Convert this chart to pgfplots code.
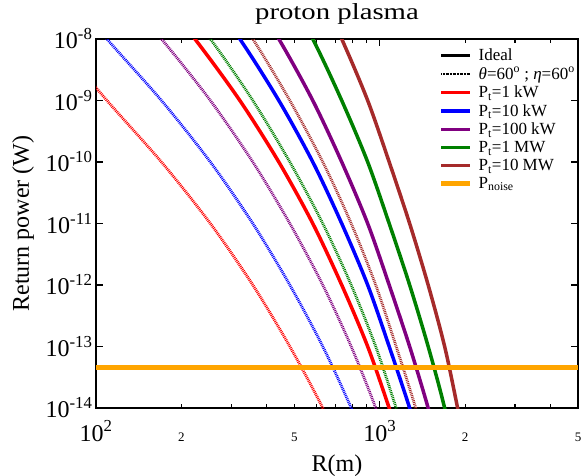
\documentclass[border=0pt]{standalone}
\usepackage{fontspec}
\setmainfont{Liberation Serif}
\usepackage{pgfplots}
\pgfplotsset{compat=1.18}
\definecolor{cpurple}{RGB}{128,0,128}
\definecolor{cgreen}{RGB}{0,128,0}
\definecolor{cbrown}{RGB}{165,42,42}
\definecolor{corange}{RGB}{255,165,0}
\tikzset{dotsty/.style={line width=2.8pt, dash pattern=on 0.9pt off 0.9pt}}
\begin{document}
\begin{tikzpicture}
\begin{loglogaxis}[
  name=ax, scale only axis, width=482pt, height=369pt,
  xmin=100, xmax=5000, ymin=1e-14, ymax=1e-8,
  axis line style={line width=1.4pt},
  every tick/.style={line width=1.2pt, black},
  major tick length=7pt, minor tick length=4pt,
  tick align=inside,
  xtick={100,1000}, xticklabels={10\textsuperscript{2},10\textsuperscript{3}},
  minor xtick={200,300,400,500,600,700,800,900,2000,3000,4000,5000},
  extra x ticks={200,500,2000,5000}, extra x tick labels={2,5,2,5},
  extra x tick style={major tick length=0pt, xticklabel style={font=\fontsize{13}{15}\selectfont}},
  ytick={1e-14,1e-13,1e-12,1e-11,1e-10,1e-9,1e-8},
  yticklabels={10\textsuperscript{-14},10\textsuperscript{-13},10\textsuperscript{-12},10\textsuperscript{-11},10\textsuperscript{-10},10\textsuperscript{-9},10\textsuperscript{-8}},
  yminorticks=false,
  ticklabel style={font=\fontsize{24}{28}\selectfont},
  xticklabel style={anchor=base, yshift=-33pt},
  title={proton plasma},
  every axis title/.style={font=\fontsize{23}{27}\selectfont\addfontfeatures{FakeStretch=1.25}, at={(axis description cs:0.5,1.0515)}, anchor=base},
  xlabel={R(m)},
  xlabel style={font=\fontsize{24}{28}\selectfont, at={(axis description cs:0.5,-0.1707)}, anchor=base},
  ylabel={Return power (W)},
  ylabel style={font=\fontsize{24}{28}\selectfont, at={(axis description cs:-0.1515,0.5)}, anchor=center},
  legend style={draw=none, fill=none, at={(axis description cs:1.004,0.985)}, anchor=north east,
    font=\fontsize{17}{20}\selectfont, row sep=1.2pt,
    /tikz/every odd column/.append style={column sep=4pt}},
  legend cell align=left,
  legend image code/.code={\draw[#1] (0pt,0pt) -- (29pt,0pt);},
]
\addlegendimage{black, line width=3.5pt}\addlegendentry{Ideal}
\addlegendimage{black, line width=2pt, dash pattern=on 0.7pt off 0.7pt}\addlegendentry{\textit{θ}=60\textsuperscript{o} ; \textit{η}=60\textsuperscript{o}}
\addlegendimage{red, line width=3.5pt}\addlegendentry{P\textsubscript{t}=1 kW}
\addlegendimage{blue, line width=3.5pt}\addlegendentry{P\textsubscript{t}=10 kW}
\addlegendimage{cpurple, line width=3.5pt}\addlegendentry{P\textsubscript{t}=100 kW}
\addlegendimage{cgreen, line width=3.5pt}\addlegendentry{P\textsubscript{t}=1 MW}
\addlegendimage{cbrown, line width=3.5pt}\addlegendentry{P\textsubscript{t}=10 MW}
\addlegendimage{corange, line width=4.5pt}\addlegendentry{P\textsubscript{noise}}

% dotted (theta=60, eta=60)
\addplot[forget plot, red, dotsty, smooth] coordinates {
(71.8,1e-8) (109.3,1e-9) (170.1,1e-10) (253,1e-11) (357.1,1e-12) (482.2,1e-13) (630.1,1e-14) (793.6,1e-15)};
\addplot[forget plot, blue, dotsty, smooth] coordinates {
(71.8,1e-7) (109.3,1e-8) (170.1,1e-9) (253,1e-10) (357.1,1e-11) (482.2,1e-12) (630.1,1e-13) (793.6,1e-14) (968,1e-15)};
\addplot[forget plot, cpurple, dotsty, smooth] coordinates {
(109.3,1e-7) (170.1,1e-8) (253,1e-9) (357.1,1e-10) (482.2,1e-11) (630.1,1e-12) (793.6,1e-13) (968,1e-14) (1143,1e-15)};
\addplot[forget plot, cgreen, dotsty, smooth] coordinates {
(170.1,1e-7) (253,1e-8) (357.1,1e-9) (482.2,1e-10) (630.1,1e-11) (793.6,1e-12) (968,1e-13) (1143,1e-14) (1339,1e-15)};
\addplot[forget plot, cbrown, dotsty, smooth] coordinates {
(253,1e-7) (357.1,1e-8) (482.2,1e-9) (630.1,1e-10) (793.6,1e-11) (968,1e-12) (1143,1e-13) (1339,1e-14) (1537,1e-15)};

% ideal
\addplot[forget plot, red, line width=3.5pt, smooth] coordinates {
(148.8,1e-7) (223.2,1e-8) (321.4,1e-9) (441,1e-10) (580.9,1e-11) (734.8,1e-12) (907,1e-13) (1080,1e-14) (1275,1e-15)};
\addplot[forget plot, blue, line width=3.5pt, smooth] coordinates {
(223.2,1e-7) (321.4,1e-8) (441,1e-9) (580.9,1e-10) (734.8,1e-11) (907,1e-12) (1080,1e-13) (1275,1e-14) (1482,1e-15)};
\addplot[forget plot, cpurple, line width=3.5pt, smooth] coordinates {
(321.4,1e-7) (441,1e-8) (580.9,1e-9) (734.8,1e-10) (907,1e-11) (1080,1e-12) (1275,1e-13) (1482,1e-14) (1694,1e-15)};
\addplot[forget plot, cgreen, line width=3.5pt, smooth] coordinates {
(441,1e-7) (580.9,1e-8) (734.8,1e-9) (907,1e-10) (1080,1e-11) (1275,1e-12) (1482,1e-13) (1694,1e-14) (1882,1e-15)};
\addplot[forget plot, cbrown, line width=3.5pt, smooth] coordinates {
(580.9,1e-7) (734.8,1e-8) (907,1e-9) (1080,1e-10) (1275,1e-11) (1482,1e-12) (1694,1e-13) (1882,1e-14) (2075,1e-15)};

% noise
\addplot[forget plot, corange, line width=5pt] coordinates {(100,4.5e-14) (5000,4.5e-14)};
\end{loglogaxis}
\pgfresetboundingbox
\path[use as bounding box] ([xshift=-96pt,yshift=-67pt]ax.south west) rectangle ([xshift=9pt,yshift=39pt]ax.north east);
\end{tikzpicture}
\end{document}
